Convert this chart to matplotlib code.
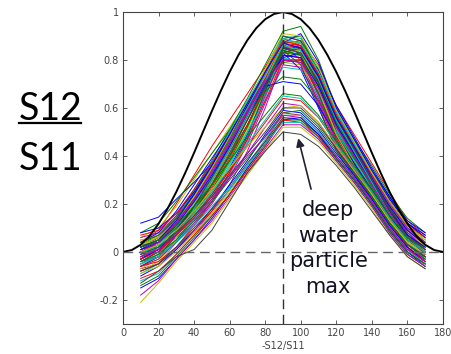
import matplotlib.pyplot as plt
from matplotlib.lines import Line2D

# scattering angles of the measured curves (deg)
angles = [10, 20, 30, 40, 50, 60, 70, 80, 90, 100, 110, 120, 130, 140, 150, 160, 170]

# -S12/S11 curves (upper bundle)
upper_curves = [
    [0.02, 0.06, 0.14, 0.25, 0.37, 0.49, 0.62, 0.75, 0.88, 0.87, 0.74, 0.57, 0.44, 0.31, 0.19, 0.09, 0.03],
    [-0.03, 0.02, 0.10, 0.20, 0.31, 0.43, 0.57, 0.70, 0.83, 0.82, 0.70, 0.54, 0.42, 0.30, 0.18, 0.08, 0.01],
    [0.04, 0.09, 0.20, 0.32, 0.44, 0.55, 0.66, 0.77, 0.90, 0.88, 0.78, 0.61, 0.49, 0.37, 0.25, 0.13, 0.07],
    [-0.02, 0.00, 0.05, 0.12, 0.21, 0.32, 0.46, 0.64, 0.84, 0.83, 0.68, 0.50, 0.37, 0.25, 0.13, 0.04, -0.02],
    [0.01, 0.05, 0.13, 0.23, 0.34, 0.46, 0.60, 0.73, 0.86, 0.85, 0.72, 0.55, 0.43, 0.31, 0.19, 0.08, 0.02],
    [0.06, 0.10, 0.19, 0.30, 0.41, 0.52, 0.63, 0.73, 0.82, 0.82, 0.73, 0.58, 0.46, 0.34, 0.23, 0.12, 0.06],
    [-0.06, -0.02, 0.07, 0.17, 0.28, 0.40, 0.53, 0.67, 0.80, 0.80, 0.68, 0.52, 0.40, 0.28, 0.16, 0.06, 0.00],
    [0.03, 0.04, 0.08, 0.15, 0.24, 0.35, 0.49, 0.66, 0.86, 0.84, 0.69, 0.49, 0.36, 0.24, 0.12, 0.03, -0.01],
    [0.03, 0.07, 0.15, 0.26, 0.38, 0.51, 0.64, 0.78, 0.92, 0.94, 0.80, 0.60, 0.47, 0.34, 0.22, 0.12, 0.06],
    [0.00, 0.04, 0.12, 0.22, 0.33, 0.45, 0.58, 0.72, 0.86, 0.80, 0.62, 0.44, 0.33, 0.22, 0.11, 0.02, -0.03],
    [-0.01, 0.03, 0.11, 0.21, 0.32, 0.44, 0.58, 0.71, 0.84, 0.82, 0.70, 0.54, 0.41, 0.29, 0.17, 0.07, 0.01],
    [-0.07, -0.05, 0.01, 0.08, 0.17, 0.28, 0.42, 0.60, 0.80, 0.79, 0.64, 0.46, 0.34, 0.22, 0.11, 0.02, -0.04],
    [-0.08, -0.04, 0.05, 0.15, 0.26, 0.38, 0.52, 0.66, 0.79, 0.78, 0.66, 0.50, 0.38, 0.26, 0.14, 0.04, -0.02],
    [0.01, 0.03, 0.10, 0.19, 0.29, 0.40, 0.53, 0.68, 0.85, 0.87, 0.75, 0.55, 0.41, 0.28, 0.16, 0.06, 0.01],
    [0.12, 0.145, 0.22, 0.29, 0.37, 0.48, 0.60, 0.72, 0.85, 0.84, 0.73, 0.58, 0.46, 0.33, 0.22, 0.12, 0.07],
    [0.08, 0.12, 0.21, 0.31, 0.41, 0.51, 0.61, 0.70, 0.79, 0.80, 0.72, 0.59, 0.47, 0.36, 0.24, 0.14, 0.08],
    [0.00, 0.04, 0.12, 0.22, 0.34, 0.47, 0.61, 0.75, 0.89, 0.86, 0.74, 0.57, 0.45, 0.33, 0.21, 0.10, 0.04],
    [-0.05, -0.02, 0.05, 0.14, 0.24, 0.36, 0.50, 0.66, 0.83, 0.84, 0.70, 0.51, 0.38, 0.26, 0.14, 0.04, -0.02],
    [0.06, 0.08, 0.15, 0.24, 0.35, 0.47, 0.59, 0.71, 0.82, 0.81, 0.69, 0.53, 0.41, 0.29, 0.18, 0.08, 0.03],
    [0.05, 0.06, 0.10, 0.17, 0.26, 0.37, 0.51, 0.68, 0.88, 0.87, 0.72, 0.52, 0.38, 0.26, 0.14, 0.05, 0.01],
    [-0.04, 0.00, 0.08, 0.18, 0.29, 0.42, 0.56, 0.70, 0.84, 0.86, 0.74, 0.56, 0.43, 0.30, 0.18, 0.07, 0.01],
    [-0.03, 0.01, 0.09, 0.19, 0.30, 0.42, 0.55, 0.69, 0.83, 0.76, 0.60, 0.43, 0.32, 0.21, 0.10, 0.01, -0.04],
    [0.02, 0.05, 0.13, 0.24, 0.36, 0.48, 0.61, 0.74, 0.87, 0.88, 0.76, 0.58, 0.45, 0.32, 0.20, 0.10, 0.04],
    [0.04, 0.07, 0.13, 0.21, 0.31, 0.43, 0.57, 0.72, 0.87, 0.86, 0.71, 0.52, 0.39, 0.27, 0.15, 0.06, 0.02],
    [-0.02, 0.02, 0.10, 0.20, 0.31, 0.44, 0.57, 0.70, 0.81, 0.79, 0.67, 0.51, 0.39, 0.27, 0.15, 0.05, 0.00],
    [-0.01, 0.01, 0.06, 0.13, 0.22, 0.33, 0.47, 0.65, 0.82, 0.81, 0.66, 0.47, 0.35, 0.23, 0.12, 0.03, -0.02],
    [0.05, 0.07, 0.14, 0.23, 0.34, 0.46, 0.59, 0.72, 0.86, 0.84, 0.71, 0.55, 0.43, 0.31, 0.20, 0.10, 0.05],
    [-0.05, -0.01, 0.08, 0.19, 0.31, 0.44, 0.58, 0.72, 0.85, 0.83, 0.71, 0.55, 0.42, 0.29, 0.17, 0.06, 0.00],
    [0.04, 0.08, 0.17, 0.28, 0.39, 0.50, 0.61, 0.71, 0.81, 0.83, 0.76, 0.61, 0.48, 0.35, 0.23, 0.12, 0.06],
    [-0.02, 0.03, 0.12, 0.23, 0.35, 0.47, 0.59, 0.67, 0.73, 0.72, 0.63, 0.50, 0.39, 0.28, 0.17, 0.07, 0.02],
    [-0.02, 0.01, 0.08, 0.17, 0.27, 0.39, 0.53, 0.69, 0.86, 0.85, 0.70, 0.50, 0.37, 0.25, 0.13, 0.03, -0.02],
    [0.03, 0.06, 0.14, 0.25, 0.37, 0.50, 0.63, 0.76, 0.90, 0.89, 0.77, 0.59, 0.46, 0.33, 0.21, 0.11, 0.05],
    [0.02, 0.06, 0.14, 0.24, 0.35, 0.47, 0.60, 0.74, 0.88, 0.82, 0.65, 0.46, 0.34, 0.23, 0.12, 0.03, -0.02],
    [-0.07, -0.03, 0.06, 0.17, 0.29, 0.42, 0.56, 0.70, 0.83, 0.84, 0.72, 0.55, 0.42, 0.29, 0.16, 0.05, -0.01],
    [0.00, 0.02, 0.07, 0.14, 0.23, 0.34, 0.48, 0.67, 0.90, 0.88, 0.71, 0.50, 0.37, 0.25, 0.13, 0.04, 0.00],
    [0.08, 0.10, 0.16, 0.25, 0.36, 0.48, 0.61, 0.74, 0.87, 0.91, 0.79, 0.60, 0.47, 0.34, 0.23, 0.13, 0.08],
    [0.02, 0.04, 0.10, 0.18, 0.28, 0.40, 0.55, 0.71, 0.89, 0.90, 0.74, 0.53, 0.40, 0.27, 0.15, 0.05, 0.00],
    [0.00, 0.03, 0.11, 0.21, 0.33, 0.45, 0.59, 0.73, 0.86, 0.85, 0.73, 0.56, 0.44, 0.31, 0.19, 0.09, 0.03],
    [-0.09, -0.05, 0.04, 0.14, 0.25, 0.37, 0.50, 0.63, 0.77, 0.76, 0.65, 0.50, 0.38, 0.26, 0.14, 0.04, -0.03],
    [-0.04, -0.02, 0.04, 0.11, 0.20, 0.31, 0.45, 0.62, 0.78, 0.77, 0.63, 0.45, 0.33, 0.21, 0.10, 0.01, -0.03],
    [0.01, 0.05, 0.13, 0.23, 0.35, 0.47, 0.60, 0.73, 0.88, 0.87, 0.75, 0.57, 0.44, 0.31, 0.19, 0.09, 0.02],
    [0.01, 0.05, 0.13, 0.22, 0.33, 0.45, 0.58, 0.71, 0.84, 0.78, 0.61, 0.42, 0.31, 0.20, 0.09, 0.00, -0.05],
    [-0.03, 0.01, 0.09, 0.19, 0.30, 0.42, 0.56, 0.69, 0.71, 0.70, 0.61, 0.48, 0.37, 0.26, 0.15, 0.05, 0.00],
    [0.04, 0.07, 0.14, 0.24, 0.35, 0.47, 0.60, 0.72, 0.84, 0.82, 0.70, 0.54, 0.42, 0.30, 0.19, 0.09, 0.04],
    [-0.08, -0.05, 0.02, 0.11, 0.21, 0.33, 0.47, 0.63, 0.80, 0.80, 0.66, 0.48, 0.36, 0.24, 0.12, 0.02, -0.04],
    [-0.01, 0.03, 0.11, 0.21, 0.33, 0.46, 0.60, 0.74, 0.89, 0.87, 0.75, 0.58, 0.45, 0.32, 0.20, 0.10, 0.03],
    [0.02, 0.05, 0.12, 0.22, 0.34, 0.46, 0.59, 0.72, 0.85, 0.86, 0.74, 0.57, 0.44, 0.32, 0.20, 0.10, 0.04],
    [0.03, 0.05, 0.11, 0.20, 0.30, 0.42, 0.56, 0.71, 0.87, 0.83, 0.68, 0.49, 0.36, 0.24, 0.13, 0.04, 0.00],
    [-0.04, 0.00, 0.09, 0.19, 0.31, 0.43, 0.57, 0.71, 0.85, 0.83, 0.71, 0.55, 0.43, 0.30, 0.18, 0.07, 0.01],
    [0.01, 0.04, 0.11, 0.21, 0.32, 0.44, 0.57, 0.70, 0.82, 0.81, 0.69, 0.53, 0.41, 0.29, 0.17, 0.07, 0.02],
    [0.00, 0.02, 0.08, 0.16, 0.26, 0.38, 0.52, 0.68, 0.84, 0.82, 0.66, 0.47, 0.35, 0.23, 0.12, 0.03, -0.02],
    [0.07, 0.09, 0.16, 0.26, 0.37, 0.49, 0.62, 0.75, 0.88, 0.86, 0.74, 0.57, 0.44, 0.32, 0.21, 0.11, 0.06],
    [-0.05, -0.01, 0.07, 0.18, 0.30, 0.43, 0.57, 0.71, 0.86, 0.84, 0.72, 0.55, 0.42, 0.29, 0.16, 0.06, 0.00],
    [0.00, 0.04, 0.12, 0.22, 0.33, 0.45, 0.58, 0.71, 0.80, 0.79, 0.68, 0.52, 0.40, 0.28, 0.16, 0.06, 0.01],
    [0.03, 0.06, 0.13, 0.23, 0.35, 0.48, 0.62, 0.76, 0.91, 0.90, 0.77, 0.59, 0.46, 0.33, 0.21, 0.11, 0.05],
    [-0.06, -0.02, 0.07, 0.17, 0.28, 0.41, 0.55, 0.69, 0.83, 0.85, 0.73, 0.56, 0.43, 0.30, 0.17, 0.06, -0.01],
    [0.02, 0.05, 0.13, 0.24, 0.36, 0.49, 0.62, 0.75, 0.87, 0.85, 0.73, 0.56, 0.44, 0.31, 0.19, 0.09, 0.03],
]

# lower bundle (deep water particles)
lower_curves = [
    [0.02, 0.05, 0.11, 0.19, 0.28, 0.38, 0.48, 0.57, 0.66, 0.65, 0.57, 0.46, 0.36, 0.26, 0.15, 0.06, 0.01],
    [-0.03, 0.00, 0.07, 0.15, 0.24, 0.34, 0.44, 0.54, 0.64, 0.63, 0.56, 0.45, 0.35, 0.25, 0.14, 0.05, 0.00],
    [0.00, 0.02, 0.08, 0.16, 0.25, 0.35, 0.45, 0.55, 0.65, 0.64, 0.56, 0.45, 0.35, 0.25, 0.14, 0.05, 0.00],
    [-0.06, -0.03, 0.04, 0.12, 0.21, 0.31, 0.41, 0.52, 0.62, 0.61, 0.54, 0.43, 0.33, 0.23, 0.12, 0.03, -0.02],
    [0.00, 0.03, 0.09, 0.17, 0.26, 0.35, 0.44, 0.52, 0.60, 0.61, 0.54, 0.44, 0.34, 0.24, 0.13, 0.04, -0.01],
    [-0.01, 0.02, 0.08, 0.15, 0.23, 0.32, 0.41, 0.50, 0.60, 0.60, 0.53, 0.43, 0.33, 0.23, 0.12, 0.03, -0.02],
    [-0.10, -0.06, 0.01, 0.09, 0.18, 0.28, 0.38, 0.49, 0.59, 0.58, 0.51, 0.41, 0.32, 0.22, 0.11, 0.02, -0.04],
    [-0.04, -0.01, 0.05, 0.13, 0.21, 0.30, 0.39, 0.48, 0.58, 0.59, 0.52, 0.42, 0.33, 0.23, 0.12, 0.03, -0.03],
    [-0.06, -0.04, 0.02, 0.09, 0.17, 0.26, 0.36, 0.46, 0.58, 0.57, 0.50, 0.40, 0.31, 0.21, 0.10, 0.01, -0.04],
    [-0.12, -0.09, -0.01, 0.07, 0.16, 0.26, 0.36, 0.47, 0.57, 0.57, 0.50, 0.40, 0.31, 0.21, 0.10, 0.01, -0.05],
    [-0.02, 0.01, 0.07, 0.14, 0.22, 0.31, 0.40, 0.48, 0.57, 0.56, 0.49, 0.40, 0.31, 0.21, 0.10, 0.01, -0.04],
    [-0.09, -0.06, 0.00, 0.08, 0.16, 0.25, 0.35, 0.45, 0.56, 0.56, 0.49, 0.39, 0.30, 0.20, 0.09, 0.00, -0.05],
    [-0.08, -0.05, 0.02, 0.10, 0.18, 0.27, 0.37, 0.46, 0.56, 0.55, 0.49, 0.39, 0.30, 0.20, 0.09, 0.00, -0.05],
    [-0.15, -0.11, -0.03, 0.05, 0.14, 0.24, 0.35, 0.45, 0.55, 0.56, 0.49, 0.39, 0.30, 0.20, 0.09, 0.00, -0.06],
    [-0.14, -0.10, -0.02, 0.06, 0.15, 0.24, 0.34, 0.44, 0.55, 0.55, 0.48, 0.39, 0.30, 0.20, 0.09, 0.00, -0.05],
    [-0.11, -0.08, -0.01, 0.07, 0.15, 0.24, 0.34, 0.44, 0.55, 0.54, 0.48, 0.38, 0.29, 0.19, 0.08, -0.01, -0.06],
    [-0.05, -0.02, 0.04, 0.11, 0.19, 0.27, 0.36, 0.45, 0.54, 0.54, 0.47, 0.38, 0.29, 0.19, 0.08, -0.01, -0.06],
    [-0.18, -0.12, -0.03, 0.05, 0.13, 0.23, 0.33, 0.43, 0.53, 0.53, 0.47, 0.38, 0.29, 0.19, 0.08, -0.01, -0.06],
    [-0.21, -0.13, -0.04, 0.04, 0.12, 0.22, 0.32, 0.42, 0.52, 0.52, 0.46, 0.37, 0.28, 0.18, 0.07, -0.02, -0.07],
    [-0.13, -0.08, -0.02, 0.01, 0.09, 0.21, 0.33, 0.42, 0.50, 0.49, 0.44, 0.36, 0.27, 0.17, 0.07, -0.02, -0.07],
]

# reference (black) curve, read every 5 degrees
ref_angles = list(range(0, 181, 5))
ref_ratio = [0.0, 0.008, 0.03, 0.067, 0.117, 0.179, 0.25, 0.329, 0.413, 0.5, 0.587, 0.671, 0.75,
             0.821, 0.883, 0.933, 0.97, 0.992, 1.0, 0.992, 0.97, 0.933, 0.883, 0.821, 0.75, 0.671,
             0.587, 0.5, 0.413, 0.329, 0.25, 0.179, 0.117, 0.067, 0.03, 0.008, 0.0]

# old matlab colour order
matlab_colors = [(0, 0, 1), (0, 0.5, 0), (1, 0, 0), (0, 0.75, 0.75),
                 (0.75, 0, 0.75), (0.75, 0.75, 0), (0.25, 0.25, 0.25)]

fig = plt.figure(figsize=(4.52, 3.54), dpi=100)
ax = fig.add_axes([0.272, 0.085, 0.708, 0.881])

all_curves = upper_curves + lower_curves
for i, curve in enumerate(all_curves):
    ax.plot(angles, curve, color=matlab_colors[i % 7], lw=0.7)

ax.plot(ref_angles, ref_ratio, color='black', lw=1.4)

# dashed guide lines
ax.axvline(90, color='#333333', lw=1.0, ls=(0, (7, 4)))
ax.axhline(0, color='#666666', lw=1.0, ls=(0, (7, 4)))

ax.set_xlim(0, 180)
ax.set_ylim(-0.3, 1)
ax.set_xticks(range(0, 181, 20))
ax.set_yticks([-0.2, 0, 0.2, 0.4, 0.6, 0.8, 1])
ax.set_yticklabels(['-0.2', '0', '0.2', '0.4', '0.6', '0.8', '1'])
ax.tick_params(direction='in', top=True, right=True, length=3, width=0.6,
               labelsize=7, labelcolor='#444444', color='#444444', pad=3)
for s in ax.spines.values():
    s.set_color('#444444')
    s.set_linewidth(0.8)
ax.set_xlabel('-S12/S11', fontsize=7, color='#444444', labelpad=2)

# annotation
words = ['deep', 'water', 'particle', 'max']
word_y = [0.148, 0.042, -0.063, -0.171]
for w, yy in zip(words, word_y):
    ax.text(115.5, yy, w, ha='center', va='baseline', fontsize=15, color='#111122')
ax.annotate('', xy=(98.6, 0.474), xytext=(105.8, 0.262),
            arrowprops=dict(arrowstyle='-|>', color='#222233', lw=1.2,
                            mutation_scale=12, shrinkA=0, shrinkB=0))

# ratio label on the left
fig.text(0.111, 0.661, 'S12', ha='center', va='baseline', fontsize=27, family='Lato')
fig.text(0.111, 0.520, 'S11', ha='center', va='baseline', fontsize=27, family='Lato')
fig.add_artist(Line2D([0.042, 0.180], [0.652, 0.652], color='black', lw=1.6))

fig.savefig('out.png', dpi=100)
